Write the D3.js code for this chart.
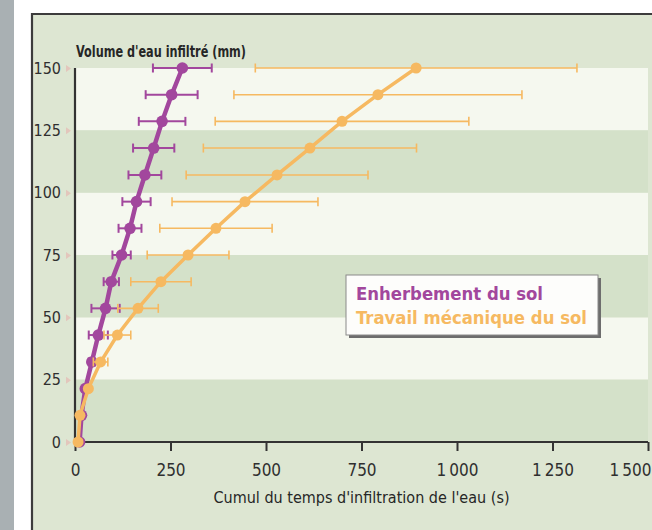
<!DOCTYPE html>
<html lang="fr">
<head>
<meta charset="UTF-8">
<title>Volume d'eau infiltré</title>
<script src="https://d3js.org/d3.v7.min.js"></script>
<style>
  body { margin: 0; background: #fff; }
  svg { display: block; }
  text { font-family: 'DejaVu Sans Condensed', 'Liberation Sans Narrow', 'Roboto Condensed', Roboto, sans-serif; font-stretch: condensed; }
</style>
</head>
<body>
<svg width="652" height="530"></svg>
<script>
// volume d'eau infiltré (mm)
const volume = [0, 10.7, 21.4, 32.1, 42.9, 53.6, 64.3, 75, 85.7, 96.4, 107.1, 117.9, 128.6, 139.3, 150];
// cumul du temps (s)
const enherbement = [12, 17, 27, 44, 61, 80, 95, 122, 144, 161, 183, 206, 228, 253, 281];
const enherbementErr = [0, 0, 0, 8, 25, 37, 20, 24, 30, 37, 43, 54, 61, 68, 77];
const travail = [8, 13, 35, 67, 111, 165, 225, 296, 369, 445, 529, 615, 699, 793, 893];
const travailErr = [0, 0, 5, 19, 35, 53, 79, 107, 147, 191, 238, 279, 332, 377, 421];

const xTicks = [0, 250, 500, 750, 1000, 1250, 1500];
const xTickLabels = ["0", "250", "500", "750", "1\u2009000", "1\u2009250", "1\u2009500"];
const yTicks = [0, 25, 50, 75, 100, 125, 150];
const bands = [[125, 150], [75, 100], [25, 50]];      // bandes claires
const darkBands = [[100, 125], [50, 75], [0, 25]];    // bandes vertes

const purple = "#a2479d", orange = "#f6b961";

const margin = { top: 68, right: 4, bottom: 88, left: 75 },
    width = 652 - margin.left - margin.right,
    height = 530 - margin.top - margin.bottom;

const root = d3.select("svg");

// cadre de la page
root.append("rect").attr("x", 0).attr("y", 0).attr("width", 14).attr("height", 530).attr("fill", "#a9b0b3");
root.append("rect").attr("x", 32).attr("y", 14).attr("width", 620).attr("height", 516).attr("fill", "#dde6d2");
root.append("path").attr("d", "M32,530V14H652").attr("fill", "none").attr("stroke", "#3c3c3c").attr("stroke-width", 2.2);

const svg = root.append("g").attr("transform", `translate(${margin.left},${margin.top})`);

const x = d3.scaleLinear().domain([0, 1500]).range([0, width]);
const y = d3.scaleLinear().domain([0, 150]).range([height, 0]);

svg.selectAll(".band").data(bands).enter().append("rect")
    .attr("x", 0).attr("width", x(1500))
    .attr("y", d => y(d[1])).attr("height", d => y(d[0]) - y(d[1]))
    .attr("fill", "#f5f8ef");
svg.selectAll(".dband").data(darkBands).enter().append("rect")
    .attr("x", 0).attr("width", x(1500))
    .attr("y", d => y(d[1])).attr("height", d => y(d[0]) - y(d[1]))
    .attr("fill", "#d4e1c9");

// axes
const xAxis = svg.append("g").attr("transform", `translate(0,${height})`)
    .call(d3.axisBottom(x).tickValues(xTicks).tickSize(9).tickPadding(13)
        .tickFormat((d, i) => xTickLabels[i]));
xAxis.select(".domain").attr("stroke", "#333").attr("stroke-width", 2.2).attr("d", `M0,0H${width}`);
xAxis.selectAll(".tick line").attr("stroke", "#333").attr("stroke-width", 2);
xAxis.selectAll(".tick text").attr("fill", "#2f2f2f").attr("font-size", 17).attr("font-family", null);
xAxis.selectAll(".tick text").filter(d => d === 1500).attr("text-anchor", "end").attr("dx", 3);

const yAxis = svg.append("g")
    .call(d3.axisLeft(y).tickValues(yTicks).tickSize(0).tickPadding(14));
yAxis.select(".domain").attr("stroke", "#333").attr("stroke-width", 2.2).attr("d", `M0,0V${height}`);
yAxis.selectAll(".tick text").attr("fill", "#2f2f2f").attr("font-size", 16).attr("font-family", null);
yAxis.selectAll(".tick").append("path")
    .attr("d", "M-9,-3.5L-4,0L-9,3.5Z").attr("fill", "#e3c6bc");

svg.append("text").attr("x", 1).attr("y", -11)
    .attr("font-size", 16).attr("font-weight", "bold").attr("fill", "#262626")
    .attr("textLength", 170).attr("lengthAdjust", "spacingAndGlyphs")
    .text("Volume d'eau infiltré (mm)");

svg.append("text").attr("x", x(750)).attr("y", height + 61)
    .attr("text-anchor", "middle").attr("font-size", 16.5).attr("fill", "#262626")
    .attr("textLength", 296).attr("lengthAdjust", "spacingAndGlyphs")
    .text("Cumul du temps d'infiltration de l'eau (s)");

function drawSeries(values, errs, color, lw, elw, r) {
    const pts = values.map((v, i) => ({ t: v, v: volume[i], e: errs[i] }));
    const g = svg.append("g");
    const eb = g.selectAll(".err").data(pts.filter(d => d.e > 0)).enter().append("g")
        .attr("stroke", color).attr("stroke-width", elw);
    eb.append("line").attr("x1", d => x(d.t - d.e)).attr("x2", d => x(d.t + d.e))
        .attr("y1", d => y(d.v)).attr("y2", d => y(d.v));
    eb.append("line").attr("x1", d => x(d.t - d.e)).attr("x2", d => x(d.t - d.e))
        .attr("y1", d => y(d.v) - 4.5).attr("y2", d => y(d.v) + 4.5);
    eb.append("line").attr("x1", d => x(d.t + d.e)).attr("x2", d => x(d.t + d.e))
        .attr("y1", d => y(d.v) - 4.5).attr("y2", d => y(d.v) + 4.5);
    g.append("path").datum(pts)
        .attr("fill", "none").attr("stroke", color).attr("stroke-width", lw)
        .attr("d", d3.line().x(d => x(d.t)).y(d => y(d.v)));
    g.selectAll("circle").data(pts).enter().append("circle")
        .attr("cx", d => x(d.t)).attr("cy", d => y(d.v)).attr("r", r).attr("fill", color);
}

drawSeries(enherbement, enherbementErr, purple, 4.5, 2, 5.8);
drawSeries(travail, travailErr, orange, 3.5, 1.6, 5.5);

// légende
const leg = root.append("g").attr("transform", "translate(346,275)");
leg.append("rect").attr("x", 3).attr("y", 3).attr("width", 252).attr("height", 60).attr("fill", "#6d6d6d");
leg.append("rect").attr("x", 0).attr("y", 0).attr("width", 252).attr("height", 60)
    .attr("fill", "#fdfdfb").attr("stroke", "#8a8a8a").attr("stroke-width", 1);
leg.append("text").attr("x", 10).attr("y", 25).attr("font-size", 17.5).attr("font-weight", "bold")
    .attr("textLength", 187).attr("lengthAdjust", "spacingAndGlyphs")
    .attr("fill", purple).text("Enherbement du sol");
leg.append("text").attr("x", 10).attr("y", 49).attr("font-size", 17.5).attr("font-weight", "bold")
    .attr("textLength", 231).attr("lengthAdjust", "spacingAndGlyphs")
    .attr("fill", orange).text("Travail mécanique du sol");
</script>
</body>
</html>
